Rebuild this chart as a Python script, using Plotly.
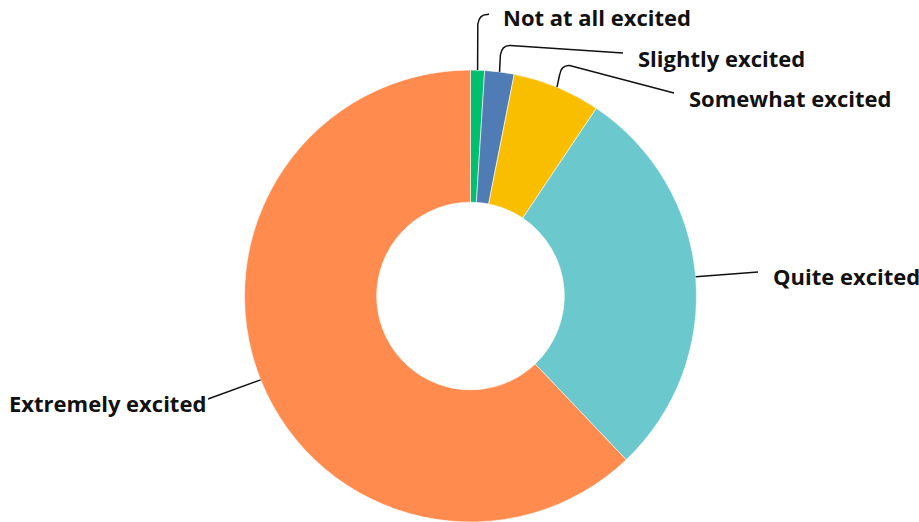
import math
import plotly.graph_objects as go

labels = ["Not at all excited", "Slightly excited", "Somewhat excited", "Quite excited", "Extremely excited"]
values = [1.0, 2.1, 6.3, 28.5, 62.1]
colors = ["#00BF6F", "#507CB6", "#F9BE00", "#6BC8CD", "#FF8B4F"]

OFF = 0  # body margin removed by post_script
W, H = 919, 522
CX, CY, R = 470.5, 296.0, 226.0

def px(x):
    return (x - OFF) / W

def py(y):
    return 1 - (y - OFF) / H

fig = go.Figure(go.Pie(
    labels=labels, values=values, sort=False, direction="clockwise", rotation=0,
    hole=0.415, textinfo="none", hoverinfo="label+percent",
    marker=dict(colors=colors, line=dict(color="white", width=0.6)),
    domain=dict(x=[px(CX - R), px(CX + R)], y=[max(0, py(CY + R)), py(CY - R)]),
    showlegend=False,
))

# anchor points at slice mid-angles (computed from the data)
total = sum(values)
anchors = []
cum = 0
for v in values:
    mid = (cum + v / 2) / total * 2 * math.pi
    anchors.append((CX + R * math.sin(mid), CY - R * math.cos(mid)))
    cum += v

def path_hook(s, elbow_y, end, bend=10):
    sx, sy = s
    ex, ey = end
    p1 = (sx + (sx - CX) * 0.03, elbow_y + bend)
    pts = "M {},{} L {},{}".format(px(sx), py(sy), px(p1[0]), py(p1[1]))
    cx, cy = p1[0] + 1.5, elbow_y
    qx, qy = p1[0] + bend, elbow_y + 0.5
    pts += " Q {},{} {},{}".format(px(cx), py(cy), px(qx), py(qy))
    pts += " L {},{}".format(px(ex), py(ey))
    return pts

def path_line(s, end):
    return "M {},{} L {},{}".format(px(s[0]), py(s[1]), px(end[0]), py(end[1]))

layout_spec = [
    dict(tx=501, ty=17.5, side="left", kind="hook", elbow=14, end=(489, 14)),
    dict(tx=636, ty=57.5, side="left", kind="hook", elbow=45, end=(623, 53)),
    dict(tx=687, ty=97.5, side="left", kind="hook", elbow=65, end=(674, 93)),
    dict(tx=771, ty=275.5, side="left", kind="line", end=(758, 272)),
    dict(tx=208, ty=402.5, side="right", kind="line", end=(208, 399)),
]

shapes = []
annotations = []
for lab, a, spec in zip(labels, anchors, layout_spec):
    if spec["kind"] == "hook":
        path = path_hook(a, spec["elbow"], spec["end"])
    else:
        path = path_line(a, spec["end"])
    shapes.append(dict(type="path", xref="paper", yref="paper", path=path,
                       line=dict(color="#111111", width=1.5)))
    annotations.append(dict(
        x=px(spec["tx"]), y=py(spec["ty"]), xref="paper", yref="paper",
        text=lab, showarrow=False, xanchor=spec["side"], yanchor="middle",
        font=dict(family="Open Sans", size=22, color="#111111", weight=700),
    ))

fig.update_layout(
    width=W, height=H, margin=dict(l=0, r=0, t=0, b=0),
    paper_bgcolor="white", plot_bgcolor="white",
    shapes=shapes, annotations=annotations,
)

fig.write_html(
    "out.html",
    config={"displayModeBar": False},
    post_script="document.body.style.margin='0';document.body.style.overflow='hidden';",
)
